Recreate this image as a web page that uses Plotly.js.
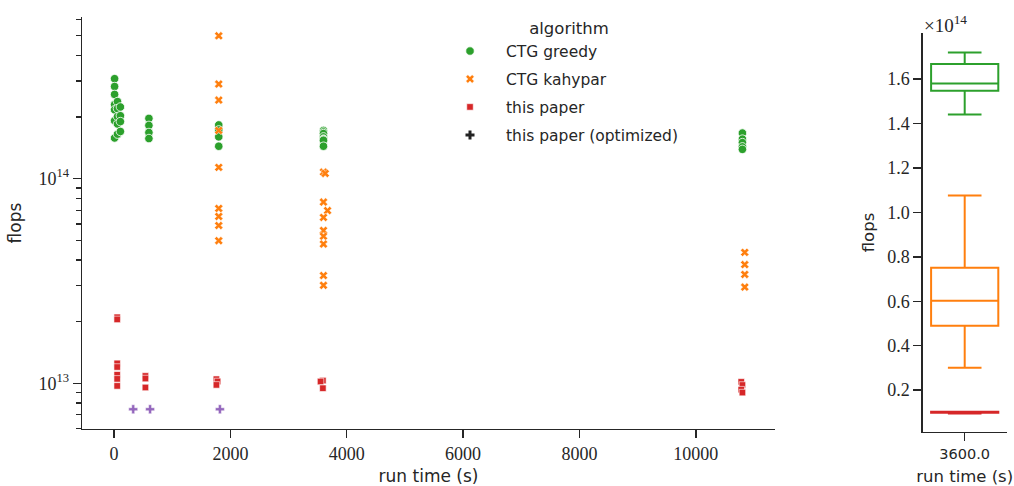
<!DOCTYPE html>
<html>
<head>
<meta charset="utf-8">
<script src="https://cdn.plot.ly/plotly-3.0.1.min.js"></script>
<style>html,body{margin:0;padding:0;background:#fff;}#chart{width:1014px;height:486px;}</style>
</head>
<body>
<div id="chart"></div>
<script>
// ---- data ----
const seriesNames = ["CTG greedy", "CTG kahypar", "this paper", "this paper (optimized)"];
const legendTitle = "algorithm";

const greedyTime = [10,10,10,10,10,10,10, 60,60,60,60,60, 110,110,110,110,
                    600,600,600,600, 1800,1800,1800,1800,
                    3600,3600,3600,3600,3600,3600,3600,3600,
                    10800,10800,10800,10800,10800];
const greedyFlops = [3.08e14,2.82e14,2.58e14,2.30e14,2.17e14,1.92e14,1.58e14,
                     2.38e14,2.20e14,2.01e14,1.85e14,1.65e14,
                     2.24e14,2.03e14,1.90e14,1.70e14,
                     1.97e14,1.82e14,1.68e14,1.57e14,
                     1.83e14,1.73e14,1.60e14,1.44e14,
                     1.72e14,1.69e14,1.66e14,1.60e14,1.56e14,1.55e14,1.54e14,1.44e14,
                     1.67e14,1.56e14,1.50e14,1.43e14,1.39e14];

const kahyparTime = [1800,1800,1800,1800,1800,1800,1800,1800,1800,
                     3600,3630,3600,3670,3600,3600,3600,3600,3600,3600,
                     10840,10840,10840,10840];
const kahyparFlops = [4.99e14,2.90e14,2.42e14,1.72e14,1.135e14,7.15e13,6.53e13,5.90e13,4.97e13,
                      1.076e14,1.06e14,7.68e13,6.98e13,6.46e13,5.58e13,5.23e13,4.79e13,3.36e13,3.01e13,
                      4.36e13,3.80e13,3.40e13,2.95e13];

const paperTime = [55,55,55,55,55,55,55, 540,540,540, 1760,1780,1760,
                   3590,3550,3590, 10780,10800,10780,10800];
const paperFlops = [2.10e13,2.05e13,1.25e13,1.20e13,1.10e13,1.05e13,9.7e12,
                    1.085e13,1.054e13,9.53e12, 1.046e13,1.02e13,9.81e12,
                    1.03e13,1.019e13,9.45e12, 1.015e13,9.8e12,9.3e12,9.0e12];

const optTime = [330, 620, 1820];
const optFlops = [7.46e12, 7.46e12, 7.46e12];

const colors = ["#2ca02c", "#ff7f0e", "#d62728", "#9467bd"];

const xTickVals = [0, 2000, 4000, 6000, 8000, 10000];
const xTickText = ["0", "2000", "4000", "6000", "8000", "10000"];
const yMajorVals = [1e13, 1e14];
const yMajorText = ["10<sup>13</sup>", "10<sup>14</sup>"];
const yMinorVals = [6e12,7e12,8e12,9e12, 2e13,3e13,4e13,5e13,6e13,7e13,8e13,9e13, 2e14,3e14,4e14,5e14,6e14];

const boxCategory = "3600.0";
const boxTime = 3600;
const boxTickVals = [0.2e14,0.4e14,0.6e14,0.8e14,1.0e14,1.2e14,1.4e14,1.6e14];
const boxTickText = ["0.2","0.4","0.6","0.8","1.0","1.2","1.4","1.6"];

// ---- helpers ----
function near(t){ return Math.abs(t - boxTime) < 150; }
function subset(times, vals){ return vals.filter((v,i)=>near(times[i])); }
function quantile(s, p){ const pos=(s.length-1)*p, lo=Math.floor(pos), hi=Math.ceil(pos); return s[lo]+(s[hi]-s[lo])*(pos-lo); }
function boxStats(vals){
  const s = vals.slice().sort((a,b)=>a-b);
  const q1 = quantile(s,0.25), med = quantile(s,0.5), q3 = quantile(s,0.75), iqr = q3-q1;
  const lo = s.filter(v => v >= q1 - 1.5*iqr), hi = s.filter(v => v <= q3 + 1.5*iqr);
  return {q1, med, q3, lf: Math.min(...lo), uf: Math.max(...hi)};
}

const serif = "Liberation Serif, Times New Roman, serif";
const sans = "DejaVu Sans, sans-serif";
const ink = "#262626";

const W = 1014, H = 486;
const px = v => v / W;
const py = v => (H - v) / H;

const traces = [
  {x: greedyTime, y: greedyFlops, name: seriesNames[0], type: "scatter", mode: "markers",
   legendgroup: "g1", marker: {symbol: "circle", size: 8.5, color: colors[0], line: {color: "#fff", width: 0.8}}},
  {x: kahyparTime, y: kahyparFlops, name: seriesNames[1], type: "scatter", mode: "markers",
   legendgroup: "g2", marker: {symbol: "x", size: 7.5, color: colors[1], line: {color: "#fff", width: 0.5}}},
  {x: paperTime, y: paperFlops, name: seriesNames[2], type: "scatter", mode: "markers",
   legendgroup: "g3", marker: {symbol: "square", size: 6.5, color: colors[2], line: {color: "#fff", width: 0.6}}},
  {x: optTime, y: optFlops, name: seriesNames[3], type: "scatter", mode: "markers", showlegend: false,
   legendgroup: "g4", marker: {symbol: "cross", size: 7.5, color: colors[3], line: {color: "#fff", width: 0.5}}},
  // legend entry for the optimized series (seaborn draws it dark)
  {x: [null], y: [null], name: seriesNames[3], type: "scatter", mode: "markers",
   legendgroup: "g4", marker: {symbol: "cross", size: 7.5, color: "#222"}},
];

const boxSets = [
  [greedyTime, greedyFlops, colors[0]],
  [kahyparTime, kahyparFlops, colors[1]],
  [paperTime, paperFlops, colors[2]],
];
boxSets.forEach(([t, f, c]) => {
  const st = boxStats(subset(t, f));
  traces.push({
    type: "box", x: [boxCategory], xaxis: "x2", yaxis: "y2",
    q1: [st.q1], median: [st.med], q3: [st.q3], lowerfence: [st.lf], upperfence: [st.uf],
    showlegend: false, boxpoints: false, whiskerwidth: 0.5, width: 0.8,
    line: {color: c, width: 2}, fillcolor: "rgba(255,255,255,0)", hoverinfo: "skip"
  });
});

const layout = {
  width: W, height: H,
  margin: {l: 0, r: 0, t: 0, b: 0},
  paper_bgcolor: "#fff", plot_bgcolor: "#fff",
  showlegend: true,
  boxmode: "overlay",
  xaxis: {
    domain: [px(82), px(775)], range: [-550, 11360],
    tickmode: "array", tickvals: xTickVals, ticktext: xTickText,
    ticks: "outside", ticklen: 8, tickwidth: 1.4, tickcolor: ink,
    showline: true, linecolor: ink, linewidth: 1.4, showgrid: false, zeroline: false,
    tickfont: {family: serif, size: 18, color: ink},
    title: {text: "run time (s)", font: {family: sans, size: 17, color: ink}, standoff: 8},
    anchor: "y"
  },
  yaxis: {
    domain: [py(429), py(17)], type: "log", range: [Math.log10(6e12)-0.002, 14.79],
    tickmode: "array", tickvals: yMajorVals, ticktext: yMajorText,
    ticks: "outside", ticklen: 8, tickwidth: 1.4, tickcolor: ink,
    minor: {tickmode: "array", tickvals: yMinorVals, ticks: "outside", ticklen: 5, tickwidth: 1.1, tickcolor: ink, showgrid: false},
    showline: true, linecolor: ink, linewidth: 1.4, showgrid: false, zeroline: false,
    tickfont: {family: serif, size: 18, color: ink},
    title: {text: "flops", font: {family: sans, size: 17, color: ink}, standoff: 12},
    anchor: "x"
  },
  xaxis2: {
    domain: [px(922.7), px(1006.7)], type: "category", range: [-0.5, 0.5],
    tickmode: "array", tickvals: [boxCategory], ticktext: [boxCategory],
    ticks: "outside", ticklen: 8, tickwidth: 1.4, tickcolor: ink,
    showline: true, linecolor: ink, linewidth: 1.4, showgrid: false, zeroline: false,
    tickfont: {family: sans, size: 14.5, color: ink},
    title: {text: "run time (s)", font: {family: sans, size: 16.5, color: ink}, standoff: 13},
    anchor: "y2"
  },
  yaxis2: {
    domain: [py(431.7), py(33.3)], range: [0.013e14, 1.806e14],
    tickmode: "array", tickvals: boxTickVals, ticktext: boxTickText,
    ticks: "outside", ticklen: 8, tickwidth: 1.4, tickcolor: ink,
    showline: true, linecolor: ink, linewidth: 1.4, showgrid: false, zeroline: false,
    tickfont: {family: serif, size: 18, color: ink},
    title: {text: "flops", font: {family: sans, size: 16.5, color: ink}, standoff: 8},
    anchor: "x2"
  },
  legend: {
    x: px(434), y: py(13), xanchor: "left", yanchor: "top",
    bgcolor: "rgba(255,255,255,0)", borderwidth: 0,
    traceorder: "grouped", tracegroupgap: 4.8, itemwidth: 62,
    font: {family: sans, size: 15.5, color: ink},
    title: {text: "\u00A0\u00A0\u00A0\u00A0" + legendTitle, side: "top center", font: {family: sans, size: 16.5, color: ink}}
  },
  annotations: [
    {text: "×10<sup>14</sup>", xref: "paper", yref: "paper", x: px(922), y: py(24),
     xanchor: "left", yanchor: "middle", showarrow: false,
     font: {family: serif, size: 19, color: ink}}
  ]
};

Plotly.newPlot("chart", traces, layout, {displayModeBar: false, staticPlot: true});
</script>
</body>
</html>
